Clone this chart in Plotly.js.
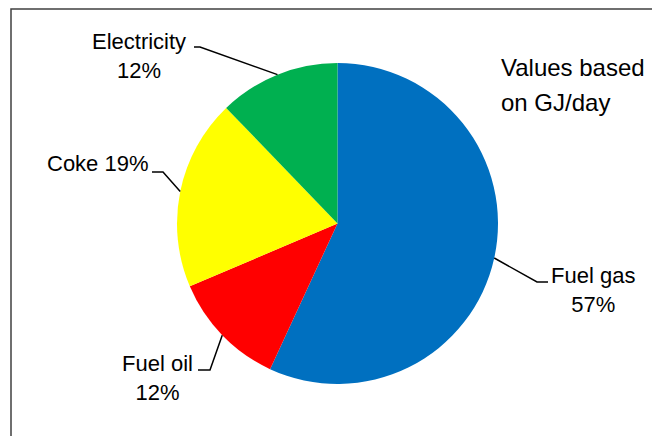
<!DOCTYPE html>
<html>
<head>
<meta charset="utf-8">
<script src="https://cdn.plot.ly/plotly-3.0.1.min.js"></script>
<style>html,body{margin:0;padding:0;background:#fff;}#chart{width:652px;height:436px;}</style>
</head>
<body>
<div id="chart"></div>
<script>
// ---- data ----
const categories = ["Fuel gas", "Fuel oil", "Coke", "Electricity"];
const values = [56.9, 11.7, 19.2, 12.2];
const colors = ["#0070C0", "#FF0000", "#FFFF00", "#00B050"];
const noteLines = ["Values based", "on GJ/day"];

// ---- layout constants (pixels) ----
const W = 652, H = 436;
const domX = [177 / W, 498 / W];
const domY = [1 - 384 / H, 1 - 63 / H];
// label block centres and leader elbows
const labelPos = {
  "Fuel gas":    {x: 593, y: 290, br: true,  elbow: [537, 282], end: [548, 282]},
  "Fuel oil":    {x: 157, y: 378, br: true,  elbow: [210, 370], end: [198, 370]},
  "Coke":        {x: 98,  y: 163, br: false, elbow: [163, 172], end: [152, 172]},
  "Electricity": {x: 139, y: 56,  br: true,  elbow: [200, 47],  end: [194, 47]}
};
const FONT = "Liberation Sans, Arial, sans-serif";

const total = values.reduce((a, b) => a + b, 0);
const cx = (domX[0] + domX[1]) / 2 * W;
const cy = (1 - (domY[0] + domY[1]) / 2) * H;
const R = Math.min((domX[1] - domX[0]) * W, (domY[1] - domY[0]) * H) / 2;

const px = x => x / W, py = y => 1 - y / H;

const annotations = [];
const shapes = [];
let cum = 0;
categories.forEach((c, i) => {
  const mid = (cum + values[i] / 2) / total;
  cum += values[i];
  const th = 2 * Math.PI * mid;
  const ex = cx + R * Math.sin(th), ey = cy - R * Math.cos(th);
  const p = labelPos[c];
  const pct = Math.round(values[i] / total * 100) + "%";
  annotations.push({
    xref: "paper", yref: "paper", x: px(p.x), y: py(p.y),
    xanchor: "center", yanchor: "middle", showarrow: false, align: "center",
    text: c + (p.br ? "<br>" : " ") + pct,
    font: {family: FONT, size: 22, color: "#000"}
  });
  shapes.push({
    type: "path", xref: "paper", yref: "paper",
    path: `M ${px(ex)} ${py(ey)} L ${px(p.elbow[0])} ${py(p.elbow[1])} L ${px(p.end[0])} ${py(p.end[1])}`,
    line: {color: "#000", width: 1.5}
  });
});

annotations.push({xref: "paper", yref: "paper", x: px(499), y: py(68), xanchor: "left", yanchor: "middle",
  showarrow: false, text: noteLines[0], font: {family: FONT, size: 24, color: "#000"}});
annotations.push({xref: "paper", yref: "paper", x: px(499), y: py(103), xanchor: "left", yanchor: "middle",
  showarrow: false, text: noteLines[1], font: {family: FONT, size: 24, color: "#000"}});

// chart border (top and left visible)
shapes.push({type: "rect", xref: "paper", yref: "paper", x0: px(11), x1: 1.2, y0: -0.2, y1: py(9),
  line: {color: "#404040", width: 1.5}});

const trace = {
  type: "pie",
  labels: categories,
  values: values,
  sort: false,
  direction: "clockwise",
  rotation: 0,
  marker: {colors: colors, line: {width: 0}},
  textinfo: "none",
  hoverinfo: "label+percent",
  domain: {x: domX, y: domY}
};

Plotly.newPlot("chart", [trace], {
  width: W, height: H,
  margin: {l: 0, r: 0, t: 0, b: 0},
  paper_bgcolor: "#fff",
  showlegend: false,
  annotations: annotations,
  shapes: shapes
}, {displayModeBar: false, staticPlot: true});
</script>
</body>
</html>
